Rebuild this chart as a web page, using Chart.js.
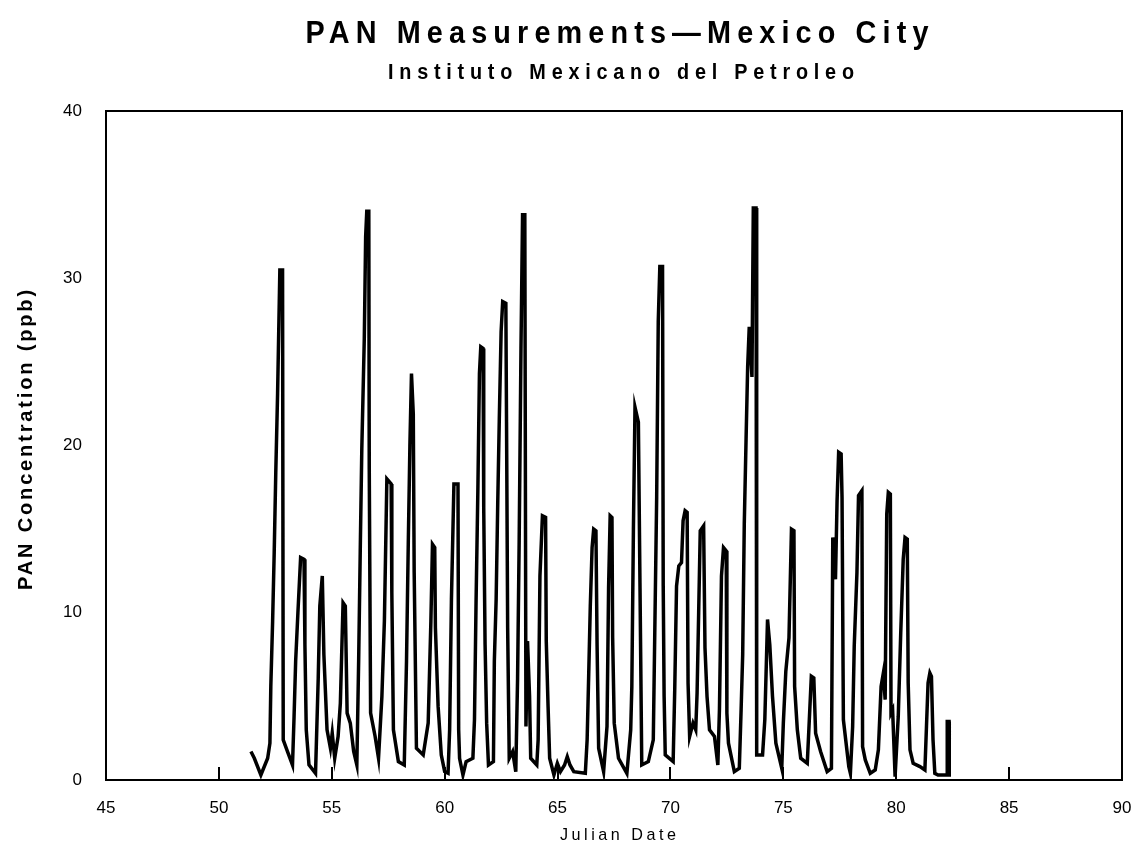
<!DOCTYPE html>
<html>
<head>
<meta charset="utf-8">
<script src="https://cdn.jsdelivr.net/npm/chart.js@4.4.1/dist/chart.umd.min.js"></script>
<style>
html,body{margin:0;padding:0;background:#fff;}
#wrap{width:1131px;height:848px;position:relative;}
canvas{display:block;}
</style>
</head>
<body>
<div id="wrap"><canvas id="c" width="1131" height="848"></canvas></div>
<script>
const titleText = "PAN Measurements\u2014Mexico City";
const subtitleText = "Instituto Mexicano del Petroleo";
const xAxisTitle = "Julian Date";
const yAxisTitle = "PAN Concentration (ppb)";
const xTickValues = [45, 50, 55, 60, 65, 70, 75, 80, 85, 90];
const xTickLabels = ["45", "50", "55", "60", "65", "70", "75", "80", "85", "90"];
const yTickValues = [0, 10, 20, 30, 40];
const yTickLabels = ["0", "10", "20", "30", "40"];

const julianDay = [
51.42,51.57,51.86,52.16,52.26,52.30,52.38,52.45,52.52,52.60,52.70,52.82,52.85,53.04,53.26,53.33,53.40,53.50,53.62,53.77,
53.81,53.87,53.99,54.28,54.40,54.47,54.58,54.65,54.79,54.94,55.02,55.13,55.28,55.38,55.50,55.60,55.68,55.82,55.97,56.11,
56.19,56.26,56.33,56.44,56.50,56.55,56.64,56.66,56.72,56.92,57.07,57.22,57.33,57.44,57.63,57.66,57.73,57.95,58.21,58.31,
58.39,58.46,58.53,58.61,58.65,58.75,59.05,59.27,59.39,59.46,59.56,59.59,59.71,59.85,60.00,60.15,60.22,60.30,60.41,60.59,
60.62,60.66,60.81,60.95,61.25,61.32,61.39,61.47,61.54,61.60,61.70,61.73,61.79,61.86,61.94,62.16,62.20,62.28,62.35,62.42,
62.50,62.57,62.71,62.74,62.79,62.86,63.01,63.15,63.23,63.30,63.38,63.45,63.55,63.60,63.67,63.76,63.81,64.08,64.14,64.22,
64.33,64.47,64.50,64.58,64.65,64.84,64.99,65.13,65.31,65.43,65.55,65.72,66.23,66.31,66.38,66.45,66.53,66.60,66.70,66.75,
66.82,67.04,67.19,67.26,67.33,67.41,67.44,67.51,67.70,68.07,68.24,68.29,68.36,68.43,68.58,68.65,68.73,69.02,69.24,69.39,
69.46,69.53,69.65,69.68,69.72,69.77,70.12,70.19,70.27,70.37,70.49,70.56,70.65,70.74,70.78,70.85,71.00,71.12,71.18,71.25,
71.32,71.47,71.53,71.62,71.73,71.95,72.10,72.17,72.26,72.35,72.47,72.50,72.57,72.83,73.05,73.13,73.20,73.27,73.35,73.42,
73.49,73.61,73.67,73.79,73.82,74.08,74.18,74.30,74.40,74.52,74.67,74.93,75.00,75.11,75.25,75.36,75.47,75.50,75.62,75.77,
76.06,76.13,76.24,76.35,76.43,76.65,76.94,77.13,77.19,77.31,77.38,77.45,77.56,77.60,77.66,77.90,77.97,78.07,78.14,78.26,
78.33,78.48,78.51,78.63,78.85,79.07,79.21,79.33,79.43,79.51,79.58,79.65,79.74,79.77,79.84,79.95,80.09,80.20,80.31,80.39,
80.49,80.53,80.61,80.75,81.05,81.27,81.34,81.41,81.49,81.56,81.63,81.71,81.85,82.25,82.26,82.34,82.35
];
const panPpb = [
1.7,1.3,0.3,1.3,2.2,5.6,9.5,13.6,18.4,23.1,30.5,30.5,2.4,1.7,0.9,3.8,7.1,10.0,13.3,13.2,
8.1,3.0,0.9,0.4,6.1,10.4,12.2,7.5,3.0,1.9,2.8,1.3,2.6,4.6,10.6,10.4,4.0,3.4,1.7,0.9,
7.1,13.6,19.8,26.4,32.5,34.0,34.0,18.6,4.0,2.6,1.3,5.0,9.5,18.0,17.7,11.2,3.0,1.1,0.9,7.1,
14.3,20.0,24.3,21.9,12.4,1.9,1.5,3.4,9.5,14.1,13.9,9.1,4.4,1.5,0.5,0.4,3.0,10.8,17.7,17.7,
3.0,1.3,0.3,1.1,1.3,3.6,10.6,17.3,24.3,25.9,25.8,16.3,8.1,3.4,0.9,1.1,7.1,10.8,16.5,21.6,
26.8,28.6,28.5,21.4,9.1,1.3,1.7,0.5,6.1,14.3,25.8,33.8,33.8,3.2,8.3,5.0,1.3,0.9,2.4,12.2,
15.8,15.7,8.3,4.4,1.3,0.3,1.0,0.5,0.9,1.4,0.9,0.5,0.4,2.4,6.3,10.4,13.9,15.0,14.9,8.1,
1.9,0.5,3.2,11.5,15.8,15.7,8.5,3.4,1.3,0.4,3.0,5.6,15.0,22.3,21.4,11.8,0.9,1.1,2.4,16.9,
27.4,30.7,30.7,11.6,5.0,1.5,1.1,5.4,11.6,12.8,13.0,15.5,16.1,16.0,5.8,2.6,3.4,3.0,5.2,10.0,
14.9,15.2,7.9,5.0,3.0,2.6,0.9,4.2,12.2,13.9,13.7,4.0,2.2,0.5,0.7,4.2,7.5,15.3,20.4,24.7,
27.1,24.1,34.2,34.2,1.5,1.5,3.6,9.6,8.1,5.0,2.2,0.7,3.4,6.5,8.5,15.0,14.9,5.6,3.0,1.3,
1.0,3.0,6.2,6.1,2.8,1.7,0.5,0.7,14.5,12.0,16.7,19.6,19.5,16.9,3.6,0.8,0.4,3.2,8.0,12.4,
17.0,17.3,2.0,1.2,0.4,0.6,1.8,5.6,6.4,4.8,15.9,17.2,17.1,4.0,4.2,0.2,3.8,8.8,13.2,14.5,
14.4,5.8,1.8,1.0,0.8,0.6,3.2,5.8,6.4,6.2,2.4,0.4,0.3,0.3,3.5,3.5,0.2
];

const FONT = '"Liberation Sans", Arial, Helvetica, sans-serif';

function fitText(ctx, text, cx, baseline, font, sx, targetW) {
  ctx.save();
  ctx.font = font;
  ctx.letterSpacing = '0px';
  const w0 = ctx.measureText(text).width;
  const n = text.length;
  const spacing = (targetW / sx - w0) / Math.max(1, n - 1);
  ctx.letterSpacing = spacing.toFixed(2) + 'px';
  ctx.translate(cx, baseline);
  ctx.scale(sx, 1);
  ctx.textAlign = 'left';
  ctx.textBaseline = 'alphabetic';
  ctx.fillStyle = '#000';
  ctx.fillText(text, -targetW / sx / 2, 0);
  ctx.restore();
}

const decor = {
  id: 'decor',
  afterDraw(chart) {
    const {ctx, chartArea: a, scales: {x}} = chart;
    ctx.save();
    ctx.strokeStyle = '#000';
    ctx.lineWidth = 2;
    ctx.strokeRect(a.left, a.top, a.right - a.left, a.bottom - a.top);
    xTickValues.forEach(v => {
      if (v > x.min && v < x.max) {
        const px = Math.round(x.getPixelForValue(v));
        ctx.beginPath();
        ctx.moveTo(px, a.bottom);
        ctx.lineTo(px, a.bottom - 13);
        ctx.stroke();
      }
    });
    ctx.restore();
    fitText(ctx, titleText, 617, 43, 'bold 32px ' + FONT, 0.9, 623);
    fitText(ctx, subtitleText, 621, 79, 'bold 22px ' + FONT, 0.9, 466);
    fitText(ctx, xAxisTitle, 618, 840, '17px ' + FONT, 0.95, 116);
    ctx.save();
    ctx.translate(32, 440);
    ctx.rotate(-Math.PI / 2);
    fitText(ctx, yAxisTitle, 0, 0, 'bold 20px ' + FONT, 1.0, 300);
    ctx.restore();
  }
};

new Chart(document.getElementById('c'), {
  type: 'line',
  data: {
    datasets: [{
      label: 'PAN',
      data: julianDay.map((d, i) => ({x: d, y: panPpb[i]})),
      borderColor: '#000',
      borderWidth: 3.5,
      pointRadius: 0,
      tension: 0,
      fill: false,
      borderJoinStyle: 'miter'
    }]
  },
  options: {
    responsive: false,
    devicePixelRatio: 1,
    animation: false,
    events: [],
    layout: {padding: {top: 111, right: 9, left: 0, bottom: 0}},
    plugins: {legend: {display: false}, tooltip: {enabled: false}, title: {display: false}},
    scales: {
      x: {
        type: 'linear', min: 45, max: 90,
        grid: {display: false, drawTicks: false},
        border: {display: false},
        afterBuildTicks(s) { s.ticks = xTickValues.map(v => ({value: v})); },
        ticks: {
          padding: 18, color: '#000', font: {family: FONT, size: 17},
          maxRotation: 0, autoSkip: false,
          callback: (v) => xTickLabels[xTickValues.indexOf(v)]
        },
        afterFit(s) { s.height = 68; s.paddingLeft = 0; s.paddingRight = 0; }
      },
      y: {
        type: 'linear', min: 0, max: 40,
        grid: {display: false, drawTicks: false},
        border: {display: false},
        afterBuildTicks(s) { s.ticks = yTickValues.map(v => ({value: v})); },
        ticks: {
          padding: 24, color: '#000', font: {family: FONT, size: 17},
          callback: (v) => yTickLabels[yTickValues.indexOf(v)]
        },
        afterFit(s) { s.width = 106; }
      }
    }
  },
  plugins: [decor]
});
</script>
</body>
</html>
